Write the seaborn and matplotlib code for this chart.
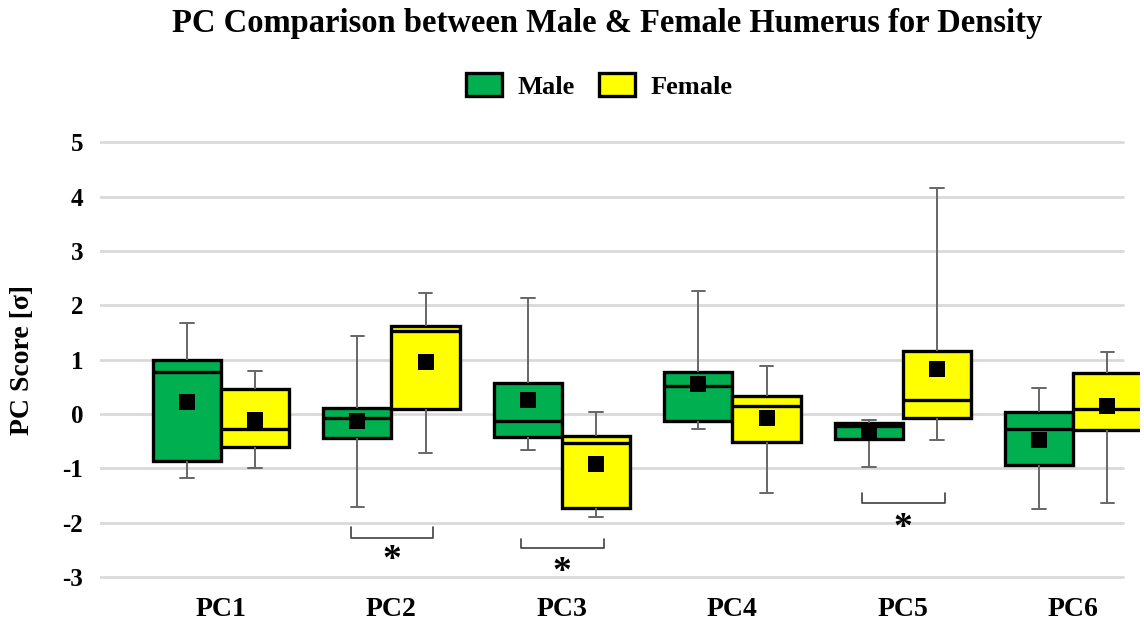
import matplotlib
matplotlib.use('Agg')
import matplotlib.pyplot as plt
import seaborn as sns
import pandas as pd
from matplotlib.patches import Patch

# five-number summaries + means
pcs = ['PC1', 'PC2', 'PC3', 'PC4', 'PC5', 'PC6']
sexes = ['Male', 'Female']

male_min = [-1.18, -1.70, -0.66, -0.28, -0.98, -1.74]
male_q1 = [-0.86, -0.44, -0.42, -0.12, -0.45, -0.94]
male_med = [0.78, -0.07, -0.12, 0.51, -0.22, -0.27]
male_q3 = [0.99, 0.12, 0.58, 0.78, -0.16, 0.04]
male_max = [1.68, 1.44, 2.14, 2.27, -0.11, 0.48]
male_mean = [0.23, -0.12, 0.26, 0.55, -0.34, -0.48]

female_min = [-0.99, -0.72, -1.89, -1.45, -0.48, -1.64]
female_q1 = [-0.60, 0.10, -1.73, -0.51, -0.07, -0.29]
female_med = [-0.28, 1.53, -0.53, 0.15, 0.26, 0.09]
female_q3 = [0.47, 1.62, -0.40, 0.34, 1.16, 0.76]
female_max = [0.80, 2.22, 0.04, 0.88, 4.15, 1.15]
female_mean = [-0.11, 0.96, -0.92, -0.08, 0.82, 0.15]

# significant pairs (brackets under the boxes)
sig_pcs = ['PC2', 'PC3', 'PC5']
sig_top = [-2.07, -2.29, -1.45]
sig_bottom = [-2.27, -2.47, -1.64]
sig_star = [-2.69, -2.91, -2.10]

colors = {'Male': '#00B050', 'Female': '#FFFF00'}

# long table: each box built from its five summary values
rows = []
summaries = {
    'Male': [male_min, male_q1, male_med, male_q3, male_max],
    'Female': [female_min, female_q1, female_med, female_q3, female_max],
}
for sex in sexes:
    for i, pc in enumerate(pcs):
        for stat in summaries[sex]:
            rows.append({'PC': pc, 'Sex': sex, 'Score': stat[i]})
df = pd.DataFrame(rows)

means = pd.DataFrame({
    'PC': pcs * 2,
    'Sex': ['Male'] * 6 + ['Female'] * 6,
    'Mean': male_mean + female_mean,
})

sns.set_style('white')
plt.rcParams['font.family'] = ['Liberation Serif', 'DejaVu Serif']
plt.rcParams['font.weight'] = 'bold'
plt.rcParams['axes.unicode_minus'] = False
plt.rcParams['text.color'] = 'black'
plt.rcParams['axes.labelcolor'] = 'black'
plt.rcParams['xtick.color'] = 'black'
plt.rcParams['ytick.color'] = 'black'

fig = plt.figure(figsize=(11.44, 6.22), dpi=100)
ax = fig.add_axes([0.0874, 0.0632, 0.909, 0.717])

for y in range(-3, 6):
    ax.axhline(y, xmin=0, xmax=0.984, color='#D9D9D9', lw=2, zorder=0)

sns.boxplot(data=df, x='PC', y='Score', hue='Sex', order=pcs, hue_order=sexes,
            palette=colors, saturation=1, width=0.8, gap=0, whis=(0, 100),
            showfliers=False, linecolor='black', linewidth=2.4, legend=False, ax=ax,
            whiskerprops={'color': '#666666', 'linewidth': 1.4},
            capprops={'color': '#666666', 'linewidth': 1.4},
            medianprops={'color': 'black', 'linewidth': 2.4},
            capwidths=0.08)

sns.stripplot(data=means, x='PC', y='Mean', hue='Sex', order=pcs, hue_order=sexes,
              palette={'Male': 'black', 'Female': 'black'}, dodge=True, jitter=False,
              marker='s', size=11, legend=False, ax=ax, zorder=5)

# significance brackets
for pc, top, bot, star in zip(sig_pcs, sig_top, sig_bottom, sig_star):
    c = pcs.index(pc)
    ax.plot([c - 0.24, c - 0.24, c + 0.245, c + 0.245], [top, bot, bot, top],
            color='#404040', lw=1.2)
    ax.text(c, star, '*', ha='center', va='center', fontsize=27, fontweight='bold')

ax.set_xlim(-0.71, 5.39)
ax.set_ylim(-3.1, 5.1)
ax.set_yticks(range(-3, 6))
ax.set_xlabel('')
ax.set_ylabel('PC Score [σ]', fontsize=20, fontweight='bold', labelpad=20)
ax.tick_params(axis='y', labelsize=18, length=0, pad=12)
ax.tick_params(axis='x', labelsize=20, length=0, pad=10)
for lab in ax.get_xticklabels() + ax.get_yticklabels():
    lab.set_fontweight('bold')
sns.despine(ax=ax, left=True, bottom=True)

handles = [Patch(facecolor=colors[s], edgecolor='black', linewidth=2.4, label=s) for s in sexes]
fig.legend(handles=handles, loc='center', bbox_to_anchor=(0.524, 0.862), ncol=2,
           frameon=False, prop={'size': 19, 'weight': 'bold'},
           handlelength=1.35, handleheight=0.95, columnspacing=0.9, handletextpad=0.6)

fig.text(0.5306, 0.963, 'PC Comparison between Male & Female Humerus for Density',
         ha='center', va='center', fontsize=23.5, fontweight='bold')

fig.savefig('out.png', dpi=100)
